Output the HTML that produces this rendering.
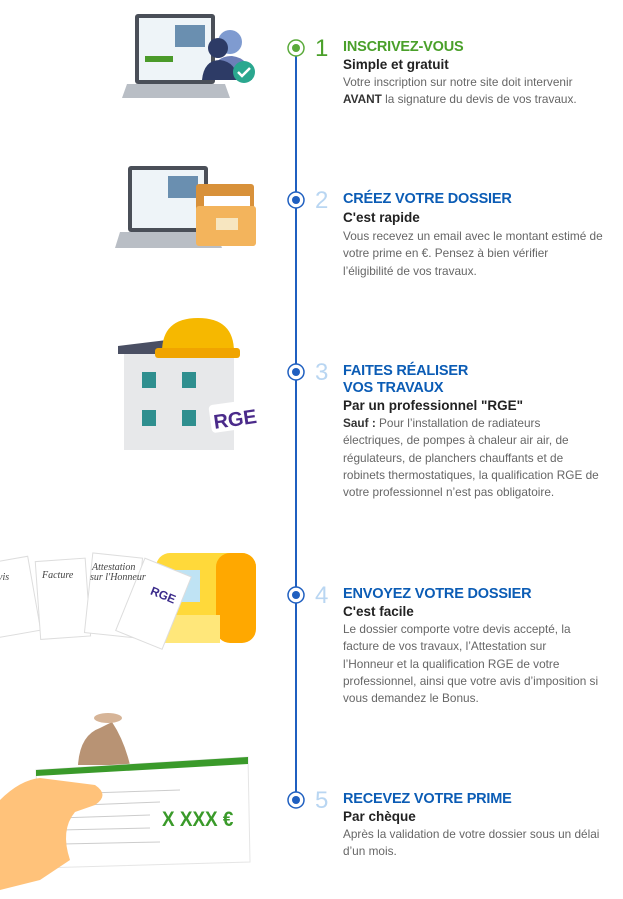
<!DOCTYPE html>
<html><head><meta charset="utf-8"><style>
body{margin:0;width:623px;height:899px;background:#fff;position:relative;overflow:hidden;font-family:"Liberation Sans",sans-serif}
.t{position:absolute;left:343px;white-space:nowrap}
.h{font-weight:bold;font-size:14.5px;color:#0b5cb5;line-height:17px;letter-spacing:-0.2px}
.g{color:#4aa02a}
.s{font-weight:bold;font-size:13.5px;color:#222;line-height:18px}
.b{font-size:11.8px;color:#666;line-height:17.3px;letter-spacing:0px}
.b b{color:#333}
.n{position:absolute;left:315px;font-size:24px;color:#b9d6f2;line-height:22px}
</style></head><body>
<svg width="623" height="899" style="position:absolute;left:0;top:0">
<line x1="296" y1="48" x2="296" y2="800" stroke="#1f5fc0" stroke-width="2"/>
<g fill="#fff" stroke-width="1.5">
<circle cx="296" cy="48" r="8" stroke="#5aaa3a"/><circle cx="296" cy="48" r="4" fill="#5aaa3a" stroke="none"/>
<circle cx="296" cy="200" r="8" stroke="#1f5fc0"/><circle cx="296" cy="200" r="4" fill="#1f5fc0" stroke="none"/>
<circle cx="296" cy="372" r="8" stroke="#1f5fc0"/><circle cx="296" cy="372" r="4" fill="#1f5fc0" stroke="none"/>
<circle cx="296" cy="595" r="8" stroke="#1f5fc0"/><circle cx="296" cy="595" r="4" fill="#1f5fc0" stroke="none"/>
<circle cx="296" cy="800" r="8" stroke="#1f5fc0"/><circle cx="296" cy="800" r="4" fill="#1f5fc0" stroke="none"/>
</g>
<rect x="135" y="14" width="80" height="70" rx="3" fill="#4a4f58"/>
<rect x="139" y="18" width="72" height="62" fill="#eef4f8"/>
<rect x="175" y="25" width="30" height="22" fill="#6a8fb0"/>
<rect x="145" y="56" width="28" height="6" fill="#4a9a2a"/>
<path d="M127 84 H225 L230 98 H122 Z" fill="#b9bec5"/>
<circle cx="230" cy="42" r="12" fill="#7f9bd0"/><path d="M210 80 Q212 56 232 56 Q250 58 252 80Z" fill="#6d7fb8"/>
<circle cx="218" cy="48" r="10" fill="#2d3b66"/><path d="M202 80 Q204 60 220 60 Q236 62 238 80Z" fill="#2d3b66"/>
<circle cx="244" cy="72" r="11" fill="#2aa78f"/><path d="M238 72 l4 4 l8 -8" stroke="#fff" stroke-width="2.5" fill="none"/>
<rect x="128" y="166" width="80" height="66" rx="3" fill="#4a4f58"/>
<rect x="132" y="170" width="72" height="58" fill="#eef4f8"/>
<rect x="168" y="176" width="30" height="22" fill="#6a8fb0"/>
<path d="M120 232 H216 L222 248 H115 Z" fill="#b9bec5"/>
<rect x="196" y="184" width="58" height="60" rx="3" fill="#d8913a"/>
<rect x="204" y="196" width="46" height="22" fill="#fff"/>
<rect x="196" y="206" width="60" height="40" rx="3" fill="#f3b45c"/>
<rect x="216" y="218" width="22" height="12" fill="#f7e6c0"/>
<rect x="124" y="354" width="110" height="96" fill="#e7e8ea"/>
<path d="M118 346 L200 336 L234 354 H124Z" fill="#4a4f63"/>
<rect x="118" y="346" width="50" height="8" fill="#4a4f63"/>
<rect x="142" y="372" width="14" height="16" fill="#2f8f8f"/><rect x="182" y="372" width="14" height="16" fill="#2f8f8f"/>
<rect x="142" y="410" width="14" height="16" fill="#2f8f8f"/><rect x="182" y="410" width="14" height="16" fill="#2f8f8f"/>
<path d="M162 352 Q162 318 198 318 Q234 318 234 352Z" fill="#f6b800"/>
<rect x="155" y="348" width="85" height="10" rx="3" fill="#f0a400"/>
<rect x="210" y="402" width="48" height="28" rx="4" fill="#fff" transform="rotate(-8 234 416)"/>
<text x="213" y="426" font-family="Liberation Sans" font-weight="bold" font-size="20" fill="#4a2a8a" transform="rotate(-8 234 416)">RGE</text>
<g fill="#fff" stroke="#ddd">
<rect x="-10" y="560" width="45" height="75" transform="rotate(-10 10 600)"/>
<rect x="38" y="560" width="50" height="78" transform="rotate(-4 60 600)"/>
<rect x="88" y="555" width="50" height="80" transform="rotate(6 110 600)"/>
</g>
<rect x="156" y="553" width="100" height="62" rx="14" fill="#ffd93a"/>
<rect x="216" y="553" width="40" height="90" rx="14" fill="#ffa800"/>
<rect x="160" y="570" width="40" height="32" fill="#bfe3f4"/>
<rect x="160" y="615" width="60" height="28" fill="#ffe77a"/>
<rect x="130" y="565" width="50" height="78" fill="#fff" stroke="#ddd" transform="rotate(22 155 600)"/>
<text x="150" y="598" font-family="Liberation Sans" font-weight="bold" font-size="12" fill="#3a2a8a" transform="rotate(22 160 595)">RGE</text>
<g font-family="Liberation Serif" font-style="italic" font-size="10" fill="#444">
<text x="-2" y="580">vis</text><text x="42" y="578">Facture</text><text x="92" y="570">Attestation</text><text x="90" y="580">sur l'Honneur</text></g>
<path d="M78 765 Q80 735 100 728 L112 722 Q124 740 130 765Z" fill="#b89374"/>
<ellipse cx="108" cy="718" rx="14" ry="5" fill="#d6b497"/>
<path d="M36 770 L248 757 L250 862 L40 868Z" fill="#fff" stroke="#e5e5e5"/>
<path d="M36 770 L248 757 L248 764 L36 776Z" fill="#3a9a2a"/>
<g stroke="#ccc" stroke-width="1"><line x1="58" y1="794" x2="180" y2="790"/><line x1="58" y1="806" x2="160" y2="802"/><line x1="58" y1="818" x2="150" y2="815"/><line x1="60" y1="830" x2="150" y2="828"/><line x1="62" y1="844" x2="160" y2="842"/></g>
<text x="162" y="826" font-family="Liberation Sans" font-weight="bold" font-size="21" fill="#3a9a2a" transform="scale(0.9 1) translate(18 0)">X XXX €</text>
<path d="M0 800 Q20 780 40 778 L95 785 Q110 795 95 805 L75 812 Q60 830 70 860 L40 880 L0 890Z" fill="#ffc27a"/>
</svg>
<div class="n" style="top:38px;color:#4aa02a">1</div>
<div class="n" style="top:190px">2</div>
<div class="n" style="top:362px">3</div>
<div class="n" style="top:585px">4</div>
<div class="n" style="top:790px">5</div>

<div class="t h g" style="top:39px">INSCRIVEZ-VOUS</div>
<div class="t s" style="top:56px">Simple et gratuit</div>
<div class="t b" style="top:74px">Votre inscription sur notre site doit intervenir<br><b>AVANT</b> la signature du devis de vos travaux.</div>

<div class="t h" style="top:191px">CRÉEZ VOTRE DOSSIER</div>
<div class="t s" style="top:209px">C'est rapide</div>
<div class="t b" style="top:228px">Vous recevez un email avec le montant estimé de<br>votre prime en €. Pensez à bien vérifier<br>l’éligibilité de vos travaux.</div>

<div class="t h" style="top:363px">FAITES RÉALISER<br>VOS TRAVAUX</div>
<div class="t s" style="top:397px">Par un professionnel "RGE"</div>
<div class="t b" style="top:415px"><b>Sauf :</b> Pour l’installation de radiateurs<br>électriques, de pompes à chaleur air air, de<br>régulateurs, de planchers chauffants et de<br>robinets thermostatiques, la qualification RGE de<br>votre professionnel n’est pas obligatoire.</div>

<div class="t h" style="top:586px">ENVOYEZ VOTRE DOSSIER</div>
<div class="t s" style="top:603px">C'est facile</div>
<div class="t b" style="top:621px">Le dossier comporte votre devis accepté, la<br>facture de vos travaux, l’Attestation sur<br>l’Honneur et la qualification RGE de votre<br>professionnel, ainsi que votre avis d’imposition si<br>vous demandez le Bonus.</div>

<div class="t h" style="top:791px">RECEVEZ VOTRE PRIME</div>
<div class="t s" style="top:808px">Par chèque</div>
<div class="t b" style="top:826px">Après la validation de votre dossier sous un délai<br>d’un mois.</div>
</body></html>
